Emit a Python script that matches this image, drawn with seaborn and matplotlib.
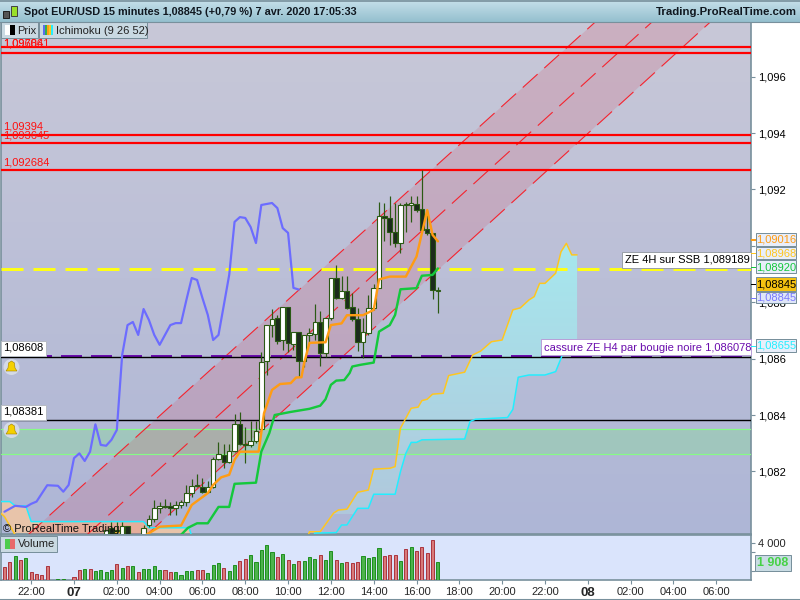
import numpy as np
import pandas as pd
import seaborn as sns
import matplotlib.pyplot as plt
from matplotlib.colors import LinearSegmentedColormap
from matplotlib.patches import Rectangle, Polygon, Ellipse

# x is counted in quarter hours from 7 April 00:00, prices in points above 1.08
candle_q = list(range(6, 11)) + list(range(13, 69))
opens = [-32, 1, -10, -43, 7, -60, 9, 30, 70, 79, 77, 70, 82, 91, 123, 151, 146, 128, 146, 243, 258, 235, 274, 367, 297,
         293, 307, 351, 593, 718, 743, 666, 782, 652, 694, 593, 683, 687, 729, 621, 743, 885, 816, 839, 782, 740, 658,
         690, 779, 850, 1106, 1098, 1050, 1011, 1148, 1144, 1147, 1130, 1059, 1045, 839]
highs = [-8, 22, 22, 22, 7, 10, 46, 99, 93, 102, 93, 95, 99, 152, 173, 191, 176, 166, 252, 303, 297, 297, 404, 410, 359,
         379, 379, 624, 718, 776, 755, 782, 782, 694, 694, 683, 709, 794, 770, 743, 885, 932, 893, 893, 833, 780, 744,
         826, 865, 1157, 1153, 1177, 1152, 1153, 1157, 1177, 1177, 1269, 1127, 1045, 853]
lows = [-32, -43, -43, -43, -40, -65, 4, 22, 52, 70, 46, 46, 70, 79, 111, 146, 125, 123, 140, 241, 211, 229, 270, 294, 231,
        288, 300, 347, 542, 677, 652, 631, 624, 631, 536, 570, 659, 666, 574, 606, 737, 812, 812, 776, 734, 627, 604,
        684, 773, 850, 1017, 1003, 997, 976, 1050, 1086, 1121, 1050, 1039, 810, 763]
closes = [-8, -25, -8, 7, -32, -2, 30, 70, 79, 75, 70, 82, 91, 123, 150, 149, 128, 146, 243, 262, 235, 274, 367, 297, 294,
          307, 345, 589, 718, 740, 664, 782, 657, 694, 593, 683, 690, 729, 621, 743, 885, 816, 839, 781, 740, 660, 694,
          779, 850, 1106, 1098, 1050, 1009, 1144, 1144, 1151, 1127, 1056, 1045, 844, 845]

tenkan_q = [13.5, 16, 20, 22, 25, 26, 27.5, 29, 30, 31, 34.5, 35.5, 37, 38.5, 40.5, 41.5, 42.5, 43, 44, 47, 48, 50, 51, 54,
            56, 57, 59, 62, 64, 66, 67, 68]
tenkan = [-25, 4, 8, 81, 123, 152, 179, 188, 241, 270, 270, 406, 489, 510, 513, 533, 534, 584, 656, 658, 719, 725, 754,
          754, 773, 881, 891, 891, 962, 1127, 1039, 1016]

kijun_q = [20, 21.3, 23, 25, 27, 29, 30, 34, 35, 36.5, 37.5, 40.5, 44, 46, 47, 48, 49, 50.5, 51.5, 52, 53.5, 56, 57, 59, 60,
           61, 64, 65, 67, 68]
kijun = [-25, 0, 16, 16, 74, 74, 156, 160, 270, 336, 400, 411, 422, 433, 456, 507, 522, 524, 549, 572, 578, 586, 696, 719,
         755, 846, 850, 894, 897, 920]

chikou_q = [-13, -11, -9, -8, -7, -5, -3, -2, -1, 0, 1, 2, 3, 4, 5, 6, 7, 8, 9, 10, 11, 12, 13, 14, 15, 16, 18, 19, 20, 21,
            22, 23, 24, 25, 26, 27, 28, 29, 30, 31, 32, 33, 34, 35, 37, 38, 39, 40, 41, 42]
chikou = [57, 78, 74, 85, 93, 151, 149, 128, 152, 247, 264, 237, 270, 367, 294, 291, 312, 347, 613, 719, 730, 684, 776, 737,
          684, 649, 719, 726, 726, 808, 886, 879, 815, 755, 666, 684, 790, 897, 1085, 1102, 1099, 1067, 1010, 1145, 1152,
          1134, 1063, 1046, 851, 845]

ssa_q = [-14, -13, -11, -10, 7, 8, 9, 10, 43.5, 44, 46, 48.5, 49.4, 51, 53, 55, 56, 59, 60, 61, 63, 64.3, 65, 66, 67, 69, 70,
         73, 74.5, 76, 78, 80, 82, 83.4, 85, 86, 87, 88, 90, 91, 92, 93, 94]
ssa = [57, 40, -25, -60, -60, -11, -22, -60, -40, -14, -14, 52, 63, 66, 126, 134, 208, 211, 217, 353, 424, 428, 451, 456,
       474, 477, 540, 552, 613, 627, 660, 666, 773, 780, 808, 820, 867, 867, 903, 979, 1009, 968, 968]

ssb_q = [-14, -12, -11, -9, -8, 13, 14, 21.5, 22, 23, 44, 45, 49, 50, 51, 53, 55, 56, 60, 61, 62, 63, 64, 65, 73, 74, 75, 81,
         82, 83, 85, 88, 90, 91, 92, 94]
ssb = [93, 93, 78, 78, 22, 22, 0, 0, -30, -60, -60, -19, -17, 10, 10, 69, 69, 119, 119, 199, 264, 303, 303, 312, 315, 377,
       385, 391, 420, 534, 542, 542, 554, 601, 655, 655]

channel_upper_q = [-8.6, 97.4]
channel_upper = [-25, 1794]
channel_mid_q = [2.4, 108]
channel_mid = [-25, 1794]
channel_lower_q = [13.6, 118.9]
channel_lower = [-25, 1794]

volume_q = list(range(-13, 69))
volumes = [1404, 1944, 2592, 2160, 2376, 864, 648, 540, 1512, 0, 108, 108, 0, 324, 1080, 1188, 1188, 972, 1080, 864, 1080,
           1728, 1296, 1512, 1512, 864, 1188, 1188, 1512, 1080, 1080, 864, 864, 540, 972, 972, 1080, 1080, 756, 1620, 1836,
           1296, 972, 1620, 2052, 2268, 2700, 1944, 3240, 3780, 3024, 2484, 2808, 2160, 1728, 2052, 2052, 2484, 2268, 2700,
           2160, 3132, 2160, 1836, 1944, 1836, 1944, 2592, 2376, 2484, 3456, 2592, 2700, 2700, 2052, 3348, 3564, 3132, 3564,
           2916, 4320, 1908]
volume_side = list("rrgrgrrrrrggrrrgrggggrgrgrggggrrggggrrgggrggrrg"
                   "ggggrgrgrgggrggrgrrrgggg" "rrrgrgrrrrg")

red_levels = [1.09706, 1.096841, 1.09394, 1.093645, 1.092684]
yellow_level = 1.089189
purple_level = 1.08611
black_levels = [1.08606, 1.08381]
band_levels = [1.08261, 1.0835]

x_ticks = [-8, 0, 8, 16, 24, 32, 40, 48, 56, 64, 72, 80, 88, 96, 104, 112, 120]
x_labels = ["22:00", "07", "02:00", "04:00", "06:00", "08:00", "10:00", "12:00", "14:00", "16:00", "18:00", "20:00",
            "22:00", "08", "02:00", "04:00", "06:00"]
price_ticks = [1.082, 1.084, 1.086, 1.088, 1.09, 1.092, 1.094, 1.096]


def price(points):
    return 1.08 + np.array(points) / 1e5


def px(v):
    return v * 0.72


sns.set_style("white")
plt.rcParams["font.family"] = ["Liberation Sans", "DejaVu Sans"]
plt.rcParams["lines.scale_dashes"] = False
plt.rcParams["lines.dash_capstyle"] = "butt"

EDGE = "#78909c"
fig = plt.figure(figsize=(8, 6), dpi=100, facecolor="white")
ax = fig.add_axes([1 / 800, 1 - 534 / 600, 750 / 800, 512 / 600])
vol = fig.add_axes([1 / 800, 1 - 580 / 600, 750 / 800, 45 / 600])
top = fig.add_axes([0, 1 - 22 / 600, 1, 22 / 600])

x_lim = (-13.64, 126.5)
y_lim = (1.07978, 1.09794)


def gradient(axis, c0, c1, extent):
    cm = LinearSegmentedColormap.from_list("g", [c0, c1])
    return axis.imshow(np.linspace(0, 1, 128).reshape(-1, 1), cmap=cm, aspect="auto", extent=extent, zorder=0)


gradient(top, "#c6e0ea", "#94bfce", (0, 1, 0, 1))
top.set_xlim(0, 1)
top.set_ylim(0, 1)
top.axis("off")

gradient(ax, "#c8c8d8", "#aeb6d6", (x_lim[0], x_lim[1], y_lim[0], y_lim[1]))

# green zone
ax.axhspan(band_levels[0], band_levels[1], color="#8cd8a0", alpha=0.45, lw=0, zorder=1)
for lv in band_levels:
    ax.axhline(lv, color="#86fb86", lw=px(1.2), zorder=4)

# ichimoku cloud
ssa_x, ssb_x = np.array(ssa_q), np.array(ssb_q)
ssa_y, ssb_y = price(ssa), price(ssb)
left_a, left_b = ssa_x <= 23, ssb_x <= 23
ax.fill(np.r_[ssb_x[left_b], ssa_x[left_a][::-1]], np.r_[ssb_y[left_b], ssa_y[left_a][::-1]],
        color="#e8c4aa", lw=0, zorder=2)
right_a, right_b = ssa_x >= 44, ssb_x >= 44
cloud = Polygon(np.c_[np.r_[ssa_x[right_a], ssb_x[right_b][::-1]], np.r_[ssa_y[right_a], ssb_y[right_b][::-1]]],
                closed=True, transform=ax.transData, fc="none", lw=0)
ax.add_patch(cloud)
cloud_img = gradient(ax, "#a6e8ee", "#b0c8dc", (x_lim[0], x_lim[1], 1.0805, 1.0902))
cloud_img.set_zorder(2)
cloud_img.set_clip_path(cloud)

# regression channel
ax.fill(channel_upper_q + channel_lower_q[::-1], list(price(channel_upper)) + list(price(channel_lower))[::-1],
        color="#dc3c50", alpha=0.17, lw=0, zorder=3)
for qs, vals in [(channel_upper_q, channel_upper), (channel_mid_q, channel_mid), (channel_lower_q, channel_lower)]:
    ax.plot(qs, price(vals), color="#f5222d", lw=px(1.1), ls=(0, (px(20), px(9))), zorder=4)

sns.lineplot(x=ssa_q, y=price(ssa), ax=ax, color="#ffc61e", linewidth=px(1.5), sort=False, zorder=5, legend=False)
sns.lineplot(x=ssb_q, y=price(ssb), ax=ax, color="#22eeff", linewidth=px(1.5), sort=False, zorder=5, legend=False)

for lv in red_levels:
    ax.axhline(lv, color="#ff0000", lw=px(2.2), zorder=4)
ax.axhline(purple_level, color="#6a0dad", lw=px(2), ls=(0, (px(21), px(9))), zorder=4)
for lv in black_levels:
    ax.axhline(lv, color="black", lw=px(1.4), zorder=4)
ax.axhline(yellow_level, color="#ffff14", lw=px(3), ls=(0, (px(22), px(10))), zorder=4)

# candles
frame = pd.DataFrame({"q": candle_q, "open": price(opens), "high": price(highs), "low": price(lows), "close": price(closes)})
ax.vlines(frame["q"], frame["low"], frame["high"], color="#2b5a14", lw=px(1.2), zorder=6)
up = frame["close"] >= frame["open"]
bottoms = frame[["open", "close"]].min(axis=1)
heights = (frame["close"] - frame["open"]).abs()
ax.bar(frame["q"], heights, bottom=bottoms, width=0.85, color=np.where(up, "white", "#1c2a1c"), edgecolor="#2b5a14",
       linewidth=px(1.1), zorder=7)

sns.lineplot(x=chikou_q, y=price(chikou), ax=ax, color="#6c6cff", linewidth=px(2.2), sort=False, zorder=8, legend=False)
sns.lineplot(x=kijun_q, y=price(kijun), ax=ax, color="#14c83c", linewidth=px(2.4), sort=False, zorder=8, legend=False)
sns.lineplot(x=tenkan_q, y=price(tenkan), ax=ax, color="#ff9c14", linewidth=px(2.4), sort=False, zorder=8, legend=False)

ax.set_xlim(x_lim)
ax.set_ylim(y_lim)
ax.set_xticks([])
ax.yaxis.tick_right()
ax.set_yticks(price_ticks)
ax.set_yticklabels([f"{t:.3f}".replace(".", ",") for t in price_ticks], fontsize=8, color="black")
ax.tick_params(axis="y", length=3, width=0.8, color=EDGE, pad=2, right=True)
for s in ax.spines.values():
    s.set_color(EDGE)
    s.set_linewidth(1.2)

# volume panel
vol_df = pd.DataFrame({"q": volume_q, "v": volumes, "side": volume_side})
sns.barplot(data=vol_df, x="q", y="v", hue="side", palette={"g": "#3cc43c", "r": "#e86a6a"}, hue_order=["g", "r"],
            native_scale=True, dodge=False, width=0.58, legend=False, ax=vol, zorder=3)
for bars, ec in zip(vol.containers, ["#148a14", "#a82a34"]):
    for b in bars:
        b.set_edgecolor(ec)
        b.set_linewidth(px(0.9))
vol.set_facecolor("#dae4fc")
vol.set_xlim(x_lim)
vol.set_ylim(0, 4865)
vol.set_xlabel("")
vol.set_ylabel("")
vol.set_xticks(x_ticks)
vol.set_xticklabels(x_labels, fontsize=8)
for lab, txt in zip(vol.get_xticklabels(), x_labels):
    if len(txt) == 2:
        lab.set_fontweight("bold")
        lab.set_fontsize(9.5)
vol.yaxis.tick_right()
vol.set_yticks([4000])
vol.set_yticklabels(["4 000"], fontsize=8)
vol.set_yticks([1000, 3000], minor=True)
vol.tick_params(axis="both", which="major", length=3, width=0.8, color=EDGE, pad=2, bottom=True, right=True)
vol.tick_params(axis="y", which="minor", length=3, width=0.8, color=EDGE, right=True)
for s in vol.spines.values():
    s.set_color(EDGE)
    s.set_linewidth(1.2)


def rect(x0, y0, x1, y1, fc, ec=EDGE, lw=1.0):
    r = Rectangle((x0 / 800, 1 - y1 / 600), (x1 - x0) / 800, (y1 - y0) / 600, transform=fig.transFigure,
                  fc=fc, ec=ec, lw=px(lw), zorder=5)
    fig.add_artist(r)
    return r


def label(x, y, s, size=8, color="black", ha="left", **kw):
    fig.text(x / 800, 1 - y / 600, s, fontsize=size, color=color, ha=ha, va="center", zorder=6, **kw)


# header
label(24, 12, "Spot EUR/USD 15 minutes 1,08845 (+0,79 %) 7 avr. 2020 17:05:33", size=7.85, color="#101820", fontweight="bold")
label(797, 12, "Trading.ProRealTime.com", size=8.2, color="#101820", ha="right", fontweight="bold")
rect(3, 11, 9, 18, "#555555", "#222222")
rect(11, 6, 17, 16, "#9adf2a", "#444444")
rect(1, 22, 38, 38, "#c9d9e2")
rect(5, 25, 10, 35, "white", "white", 0)
rect(10, 25, 15, 35, "black", "black", 0)
label(17.5, 30.5, "Prix", size=8, color="#222222")
rect(39, 22, 147, 38, "#c9d9e2")
for i, c in enumerate(["#5c6cf0", "#30b050", "#ff9c14", "#ffc61e", "#22eeff"]):
    rect(43 + i * 2, 25, 45 + i * 2, 35, c, c, 0)
label(55.5, 30.5, "Ichimoku (9 26 52)", size=8, color="#222222")

# red level labels
label(3, 43, "1,09706", color="#ff1010")
label(3, 43, "1,096841", color="#ff1010")
label(3, 126.5, "1,09394", color="#ff1010")
label(3, 135, "1,093645", color="#ff1010")
label(3, 162.5, "1,092684", color="#ff1010")

# alerts with bells
for y_box, txt, y_bell in [(348, "1,08608", 367), (412, "1,08381", 430)]:
    rect(1, y_box - 7.5, 46, y_box + 7.5, "white", "#b8bcc4")
    label(3, y_box, txt, color="black")
    fig.add_artist(Ellipse((11.5 / 800, 1 - y_bell / 600), 16 / 800, 16 / 600, transform=fig.transFigure,
                           fc="#d4dae6", ec="none", zorder=5))
    fig.add_artist(Polygon([(6 / 800, 1 - (y_bell + 4) / 600), (17 / 800, 1 - (y_bell + 4) / 600),
                            (15 / 800, 1 - (y_bell + 1) / 600), (14.5 / 800, 1 - (y_bell - 4) / 600),
                            (11.5 / 800, 1 - (y_bell - 6) / 600), (8.5 / 800, 1 - (y_bell - 4) / 600),
                            (8 / 800, 1 - (y_bell + 1) / 600)],
                           transform=fig.transFigure, fc="#f5d000", ec="#a08000", lw=0.4, zorder=6))

label(3, 529, "© ProRealTime Trading", size=8, color="#101010")
rect(0, 536, 57, 552, "#c9d9e2")
rect(5, 539, 10, 549, "#4ccc4c", "#4ccc4c", 0)
rect(10, 539, 15, 549, "#e86a6a", "#e86a6a", 0)
label(18, 544, "Volume", size=8, color="#222222")

# annotations
rect(622, 252, 751, 268, "white", "#9aa0a8")
label(625, 260, "ZE 4H sur SSB 1,089189")
rect(541, 339, 751, 355, "white", "#b8a0d8")
label(544, 348, "cassure ZE H4 par bougie noire 1,086078", color="#6a0dad")

# price tags at the right
for y0, y1, fc, c, txt in [(233, 246, "#e8eefa", "#ff9c14", "1,09016"),
                           (247, 259, "#e8eefa", "#ffc61e", "1,08968"),
                           (260, 273, "#e8eefa", "#14c83c", "1,08920"),
                           (292, 303, "#dfe6f8", "#7878ff", "1,08845"),
                           (277, 291, "#f5c211", "black", "1,08845"),
                           (339, 352, "#e8eefa", "#22eeff", "1,08655")]:
    rect(756, y0, 796, y1, fc)
    label(776, (y0 + y1) / 2 + 0.5, txt, color=c, ha="center")
    rect(751, (y0 + y1) / 2, 756, (y0 + y1) / 2 + 1, c, c, 0)

rect(755, 555, 791, 571, "#c9dce4")
label(773, 563, "1 908", size=9, color="#46d246", ha="center", fontweight="bold")

# frame of the window
fig.add_artist(plt.Line2D([0, 1], [0.5 / 600, 0.5 / 600], transform=fig.transFigure, color=EDGE, lw=1.5, zorder=5))
fig.add_artist(plt.Line2D([0, 1], [1 - 0.5 / 600, 1 - 0.5 / 600], transform=fig.transFigure, color=EDGE, lw=1.2, zorder=5))
fig.add_artist(plt.Line2D([0, 1], [1 - 22 / 600, 1 - 22 / 600], transform=fig.transFigure, color=EDGE, lw=0.8, zorder=5))

fig.savefig("out.png", dpi=100)
